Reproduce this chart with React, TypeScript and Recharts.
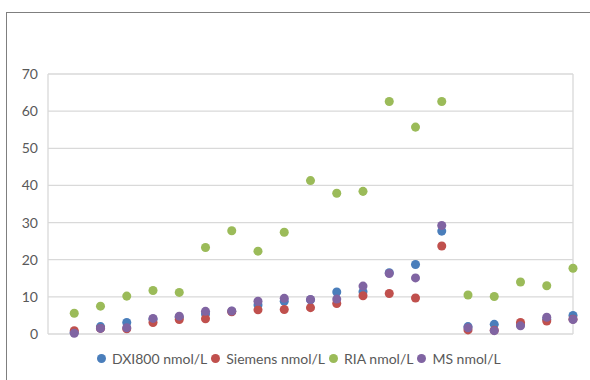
import React from "react"
import { ScatterChart, Scatter, XAxis, YAxis, ZAxis, CartesianGrid, Legend } from "recharts"

// sample number along the x axis
const samples = [1, 2, 3, 4, 5, 6, 7, 8, 9, 10, 11, 12, 13, 14, 15, 16, 17, 18, 19, 20]

const dxi800 = [0.5, 2.0, 3.1, 4.0, 4.5, 5.4, 6.1, 7.8, 8.8, 9.2, 11.3, 11.4, 16.5, 18.7, 27.7, 2.0, 2.6, 2.5, 4.0, 5.0]
const siemens = [0.9, 1.5, 1.4, 3.1, 3.9, 4.1, 6.0, 6.5, 6.6, 7.1, 8.2, 10.3, 10.9, 9.7, 23.7, 1.1, 1.0, 3.1, 3.5, 4.0]
const ria = [5.6, 7.5, 10.2, 11.7, 11.2, 23.3, 27.8, 22.3, 27.4, 41.3, 37.9, 38.4, 62.6, 55.7, 62.6, 10.5, 10.1, 14.0, 13.0, 17.7]
const ms = [0.2, 1.5, 1.7, 4.2, 4.8, 6.1, 6.2, 8.8, 9.6, 9.3, 9.4, 12.9, 16.3, 15.1, 29.2, 1.7, 0.9, 2.2, 4.5, 3.9]

const xTicks = [0, 5, 10, 15, 20]
const yTicks = [0, 10, 20, 30, 40, 50, 60, 70]

const series = [
  { name: "DXI800 nmol/L", values: dxi800, color: "#4a7ebb" },
  { name: "Siemens nmol/L", values: siemens, color: "#c0504d" },
  { name: "RIA nmol/L", values: ria, color: "#9bbb59" },
  { name: "MS nmol/L", values: ms, color: "#8064a2" },
]

const toPoints = (values: number[]) => samples.map((x, i) => ({ x, y: values[i] }))

// keep the legend in series order (recharts sorts by name otherwise)
function LegendRow() {
  return (
    <div style={{ display: "flex", alignItems: "center", fontSize: 14, color: "#595959", whiteSpace: "nowrap" }}>
      {series.map((s) => (
        <span key={s.name} style={{ display: "inline-flex", alignItems: "center", marginRight: 4 }}>
          <span
            style={{
              display: "inline-block",
              width: 9,
              height: 9,
              borderRadius: "50%",
              background: s.color,
              marginRight: 6,
            }}
          />
          {s.name}
        </span>
      ))}
    </div>
  )
}

export default function App() {
  return (
    <div style={{ position: "relative", width: 590, height: 380, overflow: "hidden", background: "#fff" }}>
      <style>{`body { margin: 0; }`}</style>
      <div
        style={{
          position: "absolute",
          left: 6,
          top: 12,
          width: 700,
          height: 500,
          border: "1px solid #7f7f7f",
          boxSizing: "border-box",
        }}
      />
      <ScatterChart
        width={590}
        height={380}
        margin={{ top: 74, right: 17, bottom: 46, left: 18 }}
        style={{ position: "absolute", left: 0, top: 0, fontFamily: "Lato, 'Open Sans', sans-serif" }}
      >
        <CartesianGrid stroke="#d9d9d9" strokeWidth={1.3} />
        <XAxis
          type="number"
          dataKey="x"
          domain={[0, 20]}
          ticks={xTicks}
          tick={false}
          tickLine={false}
          axisLine={{ stroke: "#d9d9d9", strokeWidth: 1.3 }}
          height={0}
        />
        <YAxis
          type="number"
          dataKey="y"
          domain={[0, 70]}
          ticks={yTicks}
          width={30}
          tickLine={false}
          axisLine={false}
          tickMargin={4}
          tick={{ fill: "#595959", fontSize: 14 }}
        />
        <ZAxis range={[80, 80]} />
        <Legend
          verticalAlign="middle"
          align="center"
          content={() => <LegendRow />}
          wrapperStyle={{ top: 350, left: 97, width: "auto" }}
        />
        {series.map((s) => (
          <Scatter
            key={s.name}
            name={s.name}
            data={toPoints(s.values)}
            fill={s.color}
            shape="circle"
            isAnimationActive={false}
          />
        ))}
      </ScatterChart>
    </div>
  )
}
